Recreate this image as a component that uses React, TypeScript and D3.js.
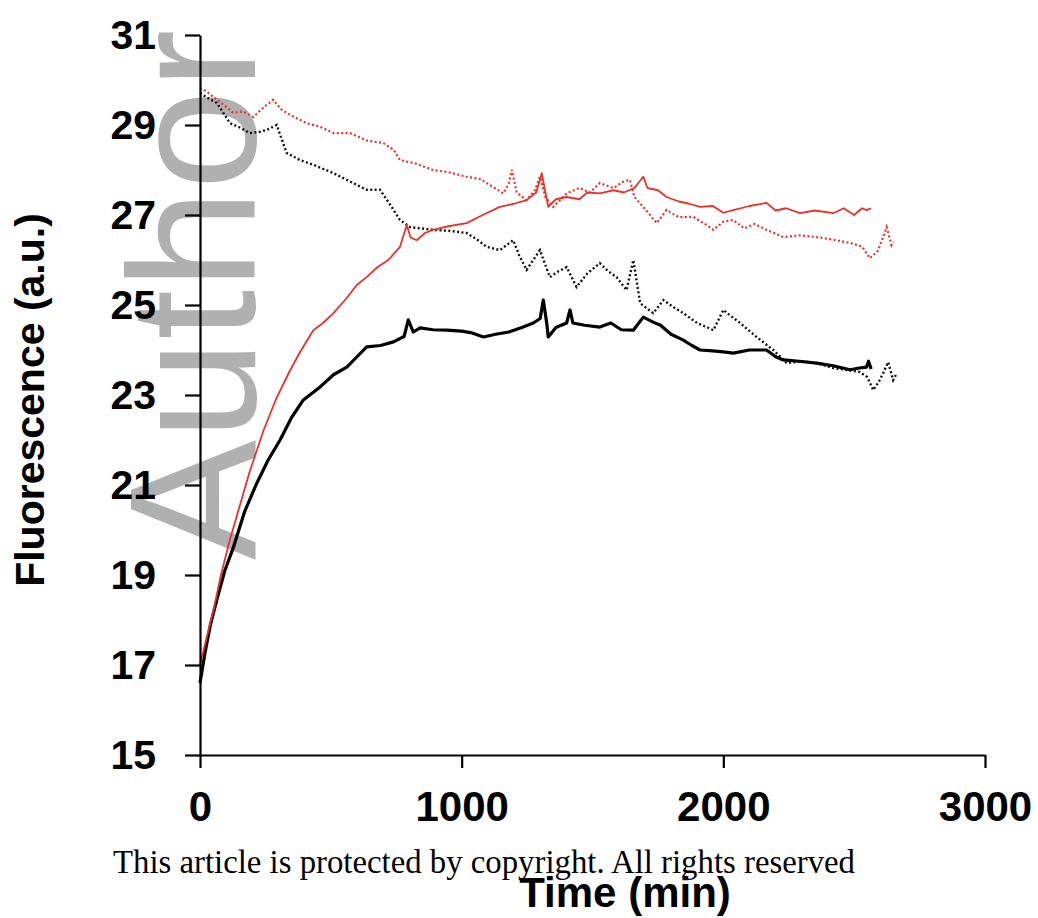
import React, { useEffect, useRef } from "react";
import * as d3 from "d3";

// ---- data (time in min, fluorescence in a.u.) ----
const redSolidT = [0, 25, 51, 80, 115, 150, 190, 242, 290, 340, 382, 433, 470, 510, 560, 600, 637, 680, 720, 764, 790, 805, 828, 860, 891, 950, 1019, 1080, 1146, 1200, 1248, 1285, 1306, 1320, 1331, 1360, 1401, 1450, 1480, 1528, 1580, 1620, 1660, 1694, 1710, 1750, 1783, 1830, 1870, 1911, 1960, 2000, 2038, 2100, 2165, 2200, 2240, 2293, 2350, 2420, 2460, 2500, 2530, 2547, 2565];
const redSolidY = [17.0, 17.6, 18.2, 19.0, 19.8, 20.5, 21.3, 22.2, 22.9, 23.5, 23.95, 24.44, 24.6, 24.82, 25.15, 25.45, 25.62, 25.85, 26.0, 26.29, 26.78, 26.5, 26.44, 26.6, 26.67, 26.75, 26.82, 27.0, 27.18, 27.25, 27.33, 27.5, 27.93, 27.5, 27.18, 27.35, 27.4, 27.35, 27.5, 27.48, 27.55, 27.5, 27.6, 27.85, 27.6, 27.55, 27.4, 27.3, 27.25, 27.18, 27.2, 27.05, 27.11, 27.2, 27.27, 27.1, 27.15, 27.04, 27.1, 27.04, 27.15, 27.0, 27.15, 27.11, 27.15];

const blackSolidT = [0, 20, 40, 64, 95, 128, 170, 217, 260, 306, 350, 395, 459, 510, 561, 600, 637, 690, 739, 780, 796, 815, 841, 890, 943, 1000, 1040, 1083, 1130, 1180, 1230, 1274, 1300, 1312, 1325, 1331, 1360, 1401, 1414, 1425, 1470, 1528, 1570, 1610, 1656, 1694, 1732, 1760, 1800, 1847, 1880, 1911, 1960, 2000, 2038, 2100, 2165, 2200, 2229, 2290, 2356, 2420, 2484, 2520, 2547, 2555, 2565];
const blackSolidY = [16.6, 17.3, 17.9, 18.44, 19.1, 19.62, 20.4, 21.04, 21.55, 22.0, 22.5, 22.89, 23.18, 23.45, 23.62, 23.85, 24.07, 24.1, 24.18, 24.3, 24.67, 24.4, 24.49, 24.45, 24.44, 24.42, 24.38, 24.29, 24.35, 24.4, 24.5, 24.6, 24.7, 25.11, 24.6, 24.29, 24.5, 24.6, 24.89, 24.6, 24.55, 24.51, 24.6, 24.45, 24.44, 24.73, 24.62, 24.55, 24.35, 24.22, 24.1, 24.0, 23.98, 23.96, 23.93, 24.0, 24.0, 23.85, 23.78, 23.75, 23.71, 23.65, 23.56, 23.6, 23.62, 23.75, 23.58];

const redDotT = [0, 25, 51, 90, 127, 165, 204, 245, 280, 310, 331, 370, 408, 459, 510, 573, 640, 700, 740, 764, 820, 891, 950, 1019, 1070, 1121, 1159, 1180, 1192, 1210, 1248, 1280, 1299, 1320, 1350, 1401, 1450, 1490, 1528, 1580, 1620, 1643, 1660, 1694, 1720, 1745, 1783, 1830, 1885, 1930, 1962, 2000, 2038, 2080, 2120, 2165, 2229, 2290, 2356, 2420, 2484, 2530, 2560, 2590, 2611, 2624, 2643, 2650];
const redDotY = [29.82, 29.75, 29.62, 29.45, 29.27, 29.3, 29.18, 29.4, 29.56, 29.35, 29.27, 29.15, 29.04, 28.96, 28.82, 28.82, 28.65, 28.6, 28.45, 28.22, 28.15, 28.0, 27.95, 27.85, 27.8, 27.62, 27.48, 27.7, 28.0, 27.5, 27.33, 27.55, 27.85, 27.4, 27.18, 27.48, 27.6, 27.5, 27.71, 27.6, 27.75, 27.78, 27.4, 27.18, 27.0, 26.82, 27.11, 26.95, 26.96, 26.8, 26.67, 26.85, 26.89, 26.7, 26.8, 26.67, 26.51, 26.55, 26.51, 26.45, 26.38, 26.3, 26.04, 26.2, 26.51, 26.73, 26.33, 26.4];

const blackDotT = [0, 30, 64, 115, 150, 191, 230, 255, 293, 331, 382, 440, 510, 561, 637, 688, 730, 764, 803, 850, 891, 950, 1019, 1060, 1096, 1146, 1197, 1220, 1248, 1299, 1337, 1370, 1401, 1439, 1480, 1528, 1560, 1592, 1630, 1656, 1682, 1732, 1771, 1810, 1847, 1900, 1962, 2000, 2030, 2064, 2127, 2191, 2242, 2300, 2356, 2420, 2480, 2522, 2550, 2573, 2595, 2611, 2630, 2649, 2660];
const blackDotY = [29.71, 29.6, 29.49, 29.04, 28.95, 28.82, 28.85, 28.89, 29.0, 28.38, 28.22, 28.1, 27.93, 27.78, 27.56, 27.56, 27.2, 26.89, 26.73, 26.7, 26.67, 26.65, 26.6, 26.45, 26.29, 26.22, 26.44, 26.1, 25.78, 26.22, 25.62, 25.75, 25.84, 25.4, 25.7, 25.93, 25.75, 25.62, 25.33, 26.0, 25.04, 24.82, 25.11, 24.95, 24.82, 24.6, 24.44, 24.89, 24.75, 24.6, 24.29, 24.0, 23.71, 23.75, 23.71, 23.6, 23.55, 23.51, 23.4, 23.11, 23.3, 23.49, 23.73, 23.33, 23.45];

const xTicks = [0, 1000, 2000, 3000];
const yTicks = [15, 17, 19, 21, 23, 25, 27, 29, 31];

const RED = "#e8322b";

export default function App() {
  const xAxisRef = useRef<SVGGElement>(null);
  const yAxisRef = useRef<SVGGElement>(null);

  const x = d3.scaleLinear().domain([0, 3000]).range([200, 985]);
  const y = d3.scaleLinear().domain([15, 31]).range([755, 35]);

  const line = d3
    .line<[number, number]>()
    .x((d) => x(d[0]))
    .y((d) => y(d[1]));

  const zip = (t: number[], v: number[]) => t.map((ti, i) => [ti, v[i]] as [number, number]);

  useEffect(() => {
    if (xAxisRef.current) {
      const g = d3.select(xAxisRef.current);
      g.call(
        d3
          .axisBottom(x)
          .tickValues(xTicks)
          .tickSize(13)
          .tickSizeOuter(0)
          .tickPadding(23)
          .tickFormat(d3.format("d"))
      );
      g.select(".domain").attr("stroke", "#000").attr("stroke-width", 2.2);
      g.selectAll(".tick line").attr("stroke", "#000").attr("stroke-width", 2.2);
      g.selectAll(".tick text")
        .attr("fill", "#000")
        .style("font-family", "'Liberation Sans', Arial, sans-serif")
        .style("font-weight", "bold")
        .style("font-size", "42px");
    }
    if (yAxisRef.current) {
      const g = d3.select(yAxisRef.current);
      g.call(
        d3
          .axisLeft(y)
          .tickValues(yTicks)
          .tickSize(15)
          .tickSizeOuter(0)
          .tickPadding(29)
          .tickFormat(d3.format("d"))
      );
      g.select(".domain").attr("stroke", "#000").attr("stroke-width", 2.2);
      g.selectAll(".tick line").attr("stroke", "#000").attr("stroke-width", 2.2);
      g.selectAll(".tick text")
        .attr("fill", "#000")
        .style("font-family", "'Liberation Sans', Arial, sans-serif")
        .style("font-weight", "bold")
        .style("font-size", "41px");
    }
  });

  return (
    <svg
      width={1038}
      height={918}
      style={{ position: "absolute", left: 0, top: 0, background: "#fff" }}
    >
      <rect x={0} y={0} width={1038} height={918} fill="#fff" />
      {/* watermark */}
      <text
        transform="translate(255,560) rotate(-90)"
        fontFamily="'Liberation Sans', Arial, sans-serif"
        fontSize={180}
        fill="#b0b0b0"
      >
        Author
      </text>

      {/* series */}
      <path
        d={line(zip(blackDotT, blackDotY)) || ""}
        fill="none"
        stroke="#111"
        strokeWidth={2.4}
        strokeDasharray="2 2.4"
      />
      <path
        d={line(zip(redDotT, redDotY)) || ""}
        fill="none"
        stroke={RED}
        strokeWidth={2.2}
        strokeDasharray="2 2.4"
      />
      <path
        d={line(zip(blackSolidT, blackSolidY)) || ""}
        fill="none"
        stroke="#000"
        strokeWidth={3.2}
        strokeLinejoin="round"
      />
      <path
        d={line(zip(redSolidT, redSolidY)) || ""}
        fill="none"
        stroke={RED}
        strokeWidth={1.8}
        strokeLinejoin="round"
      />

      <g ref={xAxisRef} transform="translate(0,755)" />
      <g ref={yAxisRef} transform="translate(200,0)" />

      {/* axis titles */}
      <text
        transform="translate(44,400) rotate(-90)"
        textAnchor="middle"
        fontFamily="'Liberation Sans', Arial, sans-serif"
        fontWeight="bold"
        fontSize={41}
        fill="#000"
      >
        Fluorescence (a.u.)
      </text>
      <text
        x={113}
        y={873}
        fontFamily="'Liberation Serif', 'Times New Roman', serif"
        fontSize={34}
        textLength={742}
        lengthAdjust="spacingAndGlyphs"
        fill="#000"
      >
        This article is protected by copyright. All rights reserved
      </text>
      <text
        x={625}
        y={907}
        textAnchor="middle"
        fontFamily="'Liberation Sans', Arial, sans-serif"
        fontWeight="bold"
        fontSize={42}
        fill="#000"
      >
        Time (min)
      </text>
    </svg>
  );
}
